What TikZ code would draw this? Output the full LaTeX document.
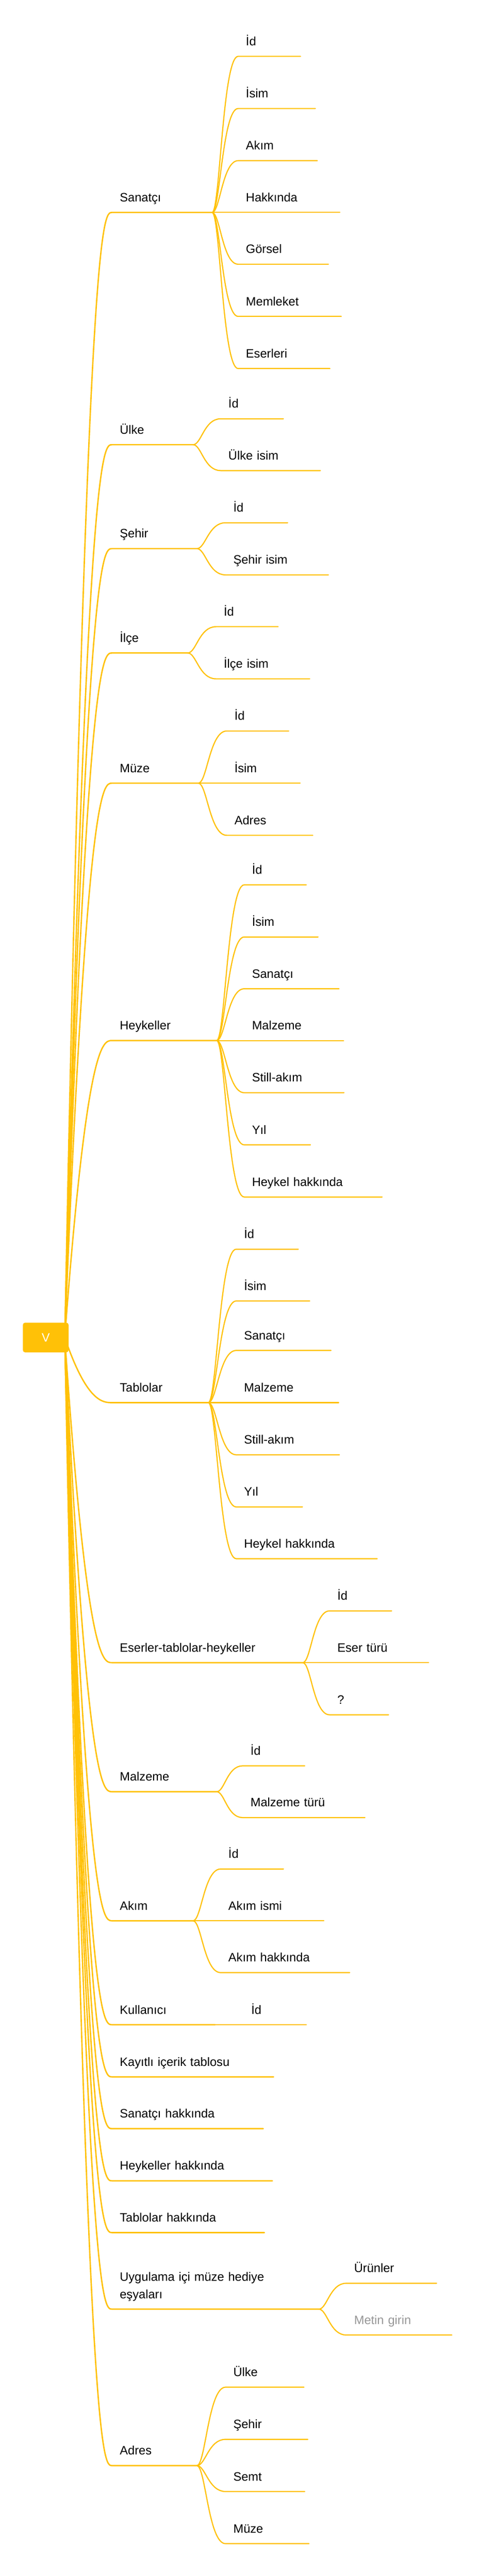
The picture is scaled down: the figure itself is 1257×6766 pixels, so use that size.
\documentclass[tikz,border=0pt]{standalone}
\usepackage{fontspec}
\setmainfont{Liberation Sans}
\usetikzlibrary{calc}
\definecolor{mmyellow}{RGB}{255,193,7}
\definecolor{mmgray}{RGB}{150,150,150}

\begin{document}
\begin{tikzpicture}[x=0.5pt,y=-0.5pt,
   branch/.style={draw=mmyellow,line width=1.8pt,line cap=round},
   twig/.style={draw=mmyellow,line width=1.5pt,line cap=round},
   trunk/.style={to path={let \p1=(\tikztostart),\p2=(\tikztotarget) in
      .. controls ({\x1+0.47*(\x2-\x1)},\y2) and ({\x1+0.81*(\x2-\x1)},\y2) .. (\tikztotarget)}},
   fork/.style={to path={let \p1=(\tikztostart),\p2=(\tikztotarget) in
      .. controls ({\x1+0.3*(\x2-\x1)},\y1) and ({\x1+0.4*(\x2-\x1)},\y2) .. (\tikztotarget)}},
   topic/.style={anchor=south west,inner xsep=10pt,inner ysep=14pt,text depth=0pt,
      align=left,font=\fontsize{16pt}{22.5pt}\selectfont},
   linelen/.code={\pgfmathsetlengthmacro\topicw{#1*0.5pt-20pt}\tikzset{text width=\topicw}},
   rootbox/.style={fill=mmyellow,rounded corners=3pt,minimum width=60pt,minimum height=39pt,
      inner sep=0pt,text=white,font=\fontsize{16pt}{19pt}\selectfont},
]
\useasboundingbox (0,0) rectangle (1257,6766);
\coordinate (hub) at (170,3513);

% first level
\node[topic,linelen=262] (sanatci) at (294,558) {Sanatçı};
\node[topic,linelen=212] (ulke) at (294,1168) {Ülke};
\node[topic,linelen=222] (sehir) at (294,1441) {Şehir};
\node[topic,linelen=198] (ilce) at (294,1715) {İlçe};
\node[topic,linelen=226] (muze) at (294,2057) {Müze};
\node[topic,linelen=274] (heykeller) at (294,2733) {Heykeller};
\node[topic,linelen=252] (tablolar) at (294,3684) {Tablolar};
\node[topic,linelen=500] (eserler) at (294,4367) {Eserler-tablolar-heykeller};
\node[topic,linelen=274] (malzeme) at (294,4706) {Malzeme};
\node[topic,linelen=212] (akim) at (294,5045) {Akım};
\node[topic,linelen=270] (kullanici) at (294,5318) {Kullanıcı};
\node[topic,linelen=423] (kayitli) at (294,5455) {Kayıtlı içerik tablosu};
\node[topic,linelen=396] (sanatci-hk) at (294,5591) {Sanatçı hakkında};
\node[topic,linelen=420] (heykeller-hk) at (294,5728) {Heykeller hakkında};
\node[topic,linelen=399] (tablolar-hk) at (294,5864) {Tablolar hakkında};
\node[topic,linelen=542,text depth=22.5pt] (hediye) at (294,6065) {Uygulama içi müze hediye\\eşyaları};
\node[topic,linelen=222] (adres) at (294,6476) {Adres};

% Sanatçı
\node[topic,linelen=163] (sanatci-id) at (625,148) {İd};
\node[topic,linelen=202] (sanatci-isim) at (625,285) {İsim};
\node[topic,linelen=207] (sanatci-akim) at (625,422) {Akım};
\node[topic,linelen=266] (sanatci-hakkinda) at (625,558) {Hakkında};
\node[topic,linelen=236] (sanatci-gorsel) at (625,694) {Görsel};
\node[topic,linelen=270] (sanatci-memleket) at (625,831) {Memleket};
\node[topic,linelen=240] (sanatci-eserleri) at (625,968) {Eserleri};

% Ülke, Şehir, İlçe
\node[topic,linelen=164] (ulke-id) at (579,1100) {İd};
\node[topic,linelen=261] (ulke-isim) at (579,1236) {Ülke isim};
\node[topic,linelen=162] (sehir-id) at (592,1373) {İd};
\node[topic,linelen=269] (sehir-isim) at (592,1510) {Şehir isim};
\node[topic,linelen=162] (ilce-id) at (567,1646) {İd};
\node[topic,linelen=245] (ilce-isim) at (567,1783) {İlçe isim};

% Müze
\node[topic,linelen=162] (muze-id) at (595,1920) {İd};
\node[topic,linelen=192] (muze-isim) at (595,2057) {İsim};
\node[topic,linelen=225] (muze-adres) at (595,2194) {Adres};

% Heykeller
\node[topic,linelen=162] (heykeller-id) at (641,2324) {İd};
\node[topic,linelen=193] (heykeller-isim) at (641,2461) {İsim};
\node[topic,linelen=248] (heykeller-sanatci) at (641,2597) {Sanatçı};
\node[topic,linelen=260] (heykeller-malzeme) at (641,2733) {Malzeme};
\node[topic,linelen=261] (heykeller-still) at (641,2870) {Still-akım};
\node[topic,linelen=173] (heykeller-yil) at (641,3007) {Yıl};
\node[topic,linelen=361] (heykeller-hakkinda) at (641,3144) {Heykel hakkında};

% Tablolar
\node[topic,linelen=162] (tablolar-id) at (620,3281) {İd};
\node[topic,linelen=192] (tablolar-isim) at (620,3417) {İsim};
\node[topic,linelen=248] (tablolar-sanatci) at (620,3547) {Sanatçı};
\node[topic,linelen=268] (tablolar-malzeme) at (620,3684) {Malzeme};
\node[topic,linelen=270] (tablolar-still) at (620,3821) {Still-akım};
\node[topic,linelen=173] (tablolar-yil) at (620,3958) {Yıl};
\node[topic,linelen=369] (tablolar-hakkinda) at (620,4094) {Heykel hakkında};

% Eserler, Malzeme, Akım, Kullanıcı
\node[topic,linelen=162] (eserler-id) at (865,4231) {İd};
\node[topic,linelen=259] (eserler-tur) at (865,4367) {Eser türü};
\node[topic,linelen=154] (eserler-soru) at (865,4504) {?};
\node[topic,linelen=162] (malzeme-id) at (637,4638) {İd};
\node[topic,linelen=320] (malzeme-tur) at (637,4774) {Malzeme türü};
\node[topic,linelen=164] (akim-id) at (579,4909) {İd};
\node[topic,linelen=270] (akim-ismi) at (579,5045) {Akım ismi};
\node[topic,linelen=338] (akim-hakkinda) at (579,5181) {Akım hakkında};
\node[topic,linelen=164] (kullanici-id) at (639,5318) {İd};

% hediye, Adres
\node[topic,linelen=236] (hediye-urunler) at (909,5997) {Ürünler};
\node[topic,linelen=276,text=mmgray] (hediye-metin) at (909,6133) {Metin girin};
\node[topic,linelen=205] (adres-ulke) at (592,6270) {Ülke};
\node[topic,linelen=215] (adres-sehir) at (592,6407) {Şehir};
\node[topic,linelen=207] (adres-semt) at (592,6544) {Semt};
\node[topic,linelen=218] (adres-muze) at (592,6681) {Müze};

% branches from the root
\draw[branch] (hub) to[trunk] (sanatci.south west) -- (sanatci.south east);
\draw[branch] (hub) to[trunk] (ulke.south west) -- (ulke.south east);
\draw[branch] (hub) to[trunk] (sehir.south west) -- (sehir.south east);
\draw[branch] (hub) to[trunk] (ilce.south west) -- (ilce.south east);
\draw[branch] (hub) to[trunk] (muze.south west) -- (muze.south east);
\draw[branch] (hub) to[trunk] (heykeller.south west) -- (heykeller.south east);
\draw[branch] (hub) to[trunk] (tablolar.south west) -- (tablolar.south east);
\draw[branch] (hub) to[trunk] (eserler.south west) -- (eserler.south east);
\draw[branch] (hub) to[trunk] (malzeme.south west) -- (malzeme.south east);
\draw[branch] (hub) to[trunk] (akim.south west) -- (akim.south east);
\draw[branch] (hub) to[trunk] (kullanici.south west) -- (kullanici.south east);
\draw[branch] (hub) to[trunk] (kayitli.south west) -- (kayitli.south east);
\draw[branch] (hub) to[trunk] (sanatci-hk.south west) -- (sanatci-hk.south east);
\draw[branch] (hub) to[trunk] (heykeller-hk.south west) -- (heykeller-hk.south east);
\draw[branch] (hub) to[trunk] (tablolar-hk.south west) -- (tablolar-hk.south east);
\draw[branch] (hub) to[trunk] (hediye.south west) -- (hediye.south east);
\draw[branch] (hub) to[trunk] (adres.south west) -- (adres.south east);

% second level
\draw[twig] (sanatci.south east) to[fork] (sanatci-id.south west) -- (sanatci-id.south east);
\draw[twig] (sanatci.south east) to[fork] (sanatci-isim.south west) -- (sanatci-isim.south east);
\draw[twig] (sanatci.south east) to[fork] (sanatci-akim.south west) -- (sanatci-akim.south east);
\draw[twig] (sanatci.south east) to[fork] (sanatci-hakkinda.south west) -- (sanatci-hakkinda.south east);
\draw[twig] (sanatci.south east) to[fork] (sanatci-gorsel.south west) -- (sanatci-gorsel.south east);
\draw[twig] (sanatci.south east) to[fork] (sanatci-memleket.south west) -- (sanatci-memleket.south east);
\draw[twig] (sanatci.south east) to[fork] (sanatci-eserleri.south west) -- (sanatci-eserleri.south east);

\draw[twig] (ulke.south east) to[fork] (ulke-id.south west) -- (ulke-id.south east);
\draw[twig] (ulke.south east) to[fork] (ulke-isim.south west) -- (ulke-isim.south east);
\draw[twig] (sehir.south east) to[fork] (sehir-id.south west) -- (sehir-id.south east);
\draw[twig] (sehir.south east) to[fork] (sehir-isim.south west) -- (sehir-isim.south east);
\draw[twig] (ilce.south east) to[fork] (ilce-id.south west) -- (ilce-id.south east);
\draw[twig] (ilce.south east) to[fork] (ilce-isim.south west) -- (ilce-isim.south east);

\draw[twig] (muze.south east) to[fork] (muze-id.south west) -- (muze-id.south east);
\draw[twig] (muze.south east) to[fork] (muze-isim.south west) -- (muze-isim.south east);
\draw[twig] (muze.south east) to[fork] (muze-adres.south west) -- (muze-adres.south east);

\draw[twig] (heykeller.south east) to[fork] (heykeller-id.south west) -- (heykeller-id.south east);
\draw[twig] (heykeller.south east) to[fork] (heykeller-isim.south west) -- (heykeller-isim.south east);
\draw[twig] (heykeller.south east) to[fork] (heykeller-sanatci.south west) -- (heykeller-sanatci.south east);
\draw[twig] (heykeller.south east) to[fork] (heykeller-malzeme.south west) -- (heykeller-malzeme.south east);
\draw[twig] (heykeller.south east) to[fork] (heykeller-still.south west) -- (heykeller-still.south east);
\draw[twig] (heykeller.south east) to[fork] (heykeller-yil.south west) -- (heykeller-yil.south east);
\draw[twig] (heykeller.south east) to[fork] (heykeller-hakkinda.south west) -- (heykeller-hakkinda.south east);

\draw[twig] (tablolar.south east) to[fork] (tablolar-id.south west) -- (tablolar-id.south east);
\draw[twig] (tablolar.south east) to[fork] (tablolar-isim.south west) -- (tablolar-isim.south east);
\draw[twig] (tablolar.south east) to[fork] (tablolar-sanatci.south west) -- (tablolar-sanatci.south east);
\draw[twig] (tablolar.south east) to[fork] (tablolar-malzeme.south west) -- (tablolar-malzeme.south east);
\draw[twig] (tablolar.south east) to[fork] (tablolar-still.south west) -- (tablolar-still.south east);
\draw[twig] (tablolar.south east) to[fork] (tablolar-yil.south west) -- (tablolar-yil.south east);
\draw[twig] (tablolar.south east) to[fork] (tablolar-hakkinda.south west) -- (tablolar-hakkinda.south east);

\draw[twig] (eserler.south east) to[fork] (eserler-id.south west) -- (eserler-id.south east);
\draw[twig] (eserler.south east) to[fork] (eserler-tur.south west) -- (eserler-tur.south east);
\draw[twig] (eserler.south east) to[fork] (eserler-soru.south west) -- (eserler-soru.south east);
\draw[twig] (malzeme.south east) to[fork] (malzeme-id.south west) -- (malzeme-id.south east);
\draw[twig] (malzeme.south east) to[fork] (malzeme-tur.south west) -- (malzeme-tur.south east);
\draw[twig] (akim.south east) to[fork] (akim-id.south west) -- (akim-id.south east);
\draw[twig] (akim.south east) to[fork] (akim-ismi.south west) -- (akim-ismi.south east);
\draw[twig] (akim.south east) to[fork] (akim-hakkinda.south west) -- (akim-hakkinda.south east);
\draw[twig] (kullanici.south east) -- (kullanici-id.south west) -- (kullanici-id.south east);

\draw[twig] (hediye.south east) to[fork] (hediye-urunler.south west) -- (hediye-urunler.south east);
\draw[twig] (hediye.south east) to[fork] (hediye-metin.south west) -- (hediye-metin.south east);
\draw[twig] (adres.south east) to[fork] (adres-ulke.south west) -- (adres-ulke.south east);
\draw[twig] (adres.south east) to[fork] (adres-sehir.south west) -- (adres-sehir.south east);
\draw[twig] (adres.south east) to[fork] (adres-semt.south west) -- (adres-semt.south east);
\draw[twig] (adres.south east) to[fork] (adres-muze.south west) -- (adres-muze.south east);

% root on top
\node[rootbox] (v) at (120,3513) {V};
\end{tikzpicture}
\end{document}
